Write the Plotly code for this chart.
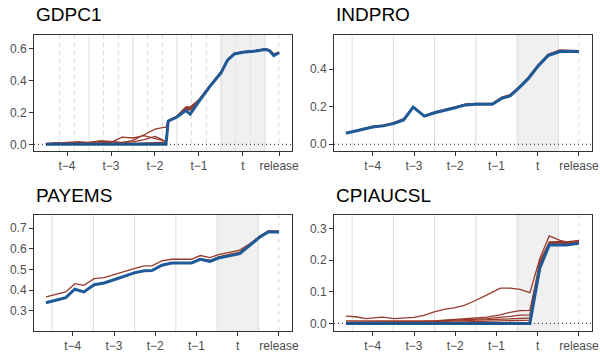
import plotly.graph_objects as go

# x positions are in quarters relative to the target quarter t
TICK_TEXT = ["t−4", "t−3", "t−2", "t−1", "t", "release"]

RED = "#973A2B"
BLUE = "#1E5A98"

# --- GDPC1 ---
gdp_x = [-4.48, -4.25, -4.0, -3.75, -3.5, -3.25, -3.0, -2.75, -2.5, -2.25, -2.0, -1.83, -1.75, -1.7,
         -1.5, -1.3, -1.2, -1.0, -0.75, -0.5, -0.35, -0.2, 0.0, 0.25, 0.5, 0.6, 0.7, 0.82]
gdp_final = [0, 0, 0, 0, 0, 0, 0, 0, 0, 0, 0, 0, 0, 0.146,
             0.172, 0.212, 0.19, 0.27, 0.365, 0.45, 0.53, 0.568, 0.58, 0.585, 0.597, 0.59, 0.558, 0.576]
gdp_v1 = [0.005, 0.008, 0.01, 0.008, 0.006, 0.005, 0.005, 0.01, 0.025, 0.06, 0.095, 0.105, 0.108, 0.15,
          0.178, 0.235, 0.235, 0.28, 0.37, 0.455, 0.535, 0.572, 0.583, 0.588, 0.6, 0.594, 0.565, 0.578]
gdp_v2 = [0.003, 0.005, 0.012, 0.015, 0.008, 0.01, 0.012, 0.045, 0.04, 0.055, 0.04, 0.025, 0.02, 0.148,
          0.175, 0.228, 0.232, 0.282, 0.372, 0.458, 0.535, 0.572, 0.584, 0.589, 0.601, 0.596, 0.57, 0.58]
gdp_v3 = [0.002, 0.004, 0.006, 0.012, 0.01, 0.02, 0.015, 0.012, 0.015, 0.03, 0.05, 0.03, 0.012, 0.148,
          0.176, 0.225, 0.226, 0.276, 0.368, 0.452, 0.532, 0.57, 0.582, 0.587, 0.599, 0.593, 0.565, 0.578]
gdp_v4 = [0.005, 0.01, 0.005, 0.015, 0.012, 0.022, 0.018, 0.008, 0.006, 0.01, 0.012, 0.012, 0.01, 0.147,
          0.174, 0.22, 0.22, 0.275, 0.366, 0.45, 0.53, 0.57, 0.582, 0.587, 0.6, 0.592, 0.562, 0.577]
gdp_v5 = [0.002, 0.002, 0.003, 0.004, 0.003, 0.004, 0.005, 0.004, 0.004, 0.005, 0.005, 0.006, 0.006, 0.147,
          0.173, 0.218, 0.215, 0.273, 0.366, 0.452, 0.532, 0.57, 0.582, 0.587, 0.599, 0.592, 0.563, 0.577]

# --- INDPRO ---
ind_x = [-4.65, -4.0, -3.75, -3.5, -3.25, -3.02, -2.75, -2.5, -2.0, -1.75, -1.5, -1.1, -0.87, -0.67,
         -0.48, -0.23, 0.0, 0.25, 0.54, 1.0]
ind_final = [0.059, 0.092, 0.098, 0.11, 0.13, 0.198, 0.15, 0.168, 0.195, 0.21, 0.213, 0.213, 0.245, 0.258,
             0.295, 0.35, 0.415, 0.473, 0.495, 0.495]
ind_v1 = [0.061, 0.096, 0.102, 0.116, 0.137, 0.2, 0.153, 0.173, 0.2, 0.216, 0.218, 0.218, 0.252, 0.265,
          0.302, 0.357, 0.422, 0.48, 0.503, 0.5]
ind_v2 = [0.06, 0.094, 0.1, 0.113, 0.133, 0.199, 0.152, 0.171, 0.198, 0.213, 0.216, 0.216, 0.249, 0.262,
          0.299, 0.354, 0.419, 0.478, 0.5, 0.498]

# --- PAYEMS ---
pay_x = [-4.65, -4.17, -3.95, -3.73, -3.48, -3.24, -3.0, -2.76, -2.51, -2.27, -2.08, -1.84, -1.6, -1.12,
         -0.91, -0.67, -0.47, -0.23, 0.05, 0.3, 0.54, 0.74, 1.0]
pay_final = [0.340, 0.364, 0.405, 0.392, 0.427, 0.435, 0.451, 0.469, 0.484, 0.494, 0.495, 0.521, 0.532, 0.532,
             0.55, 0.54, 0.556, 0.565, 0.577, 0.618, 0.658, 0.682, 0.682]
pay_v1 = [0.368, 0.392, 0.432, 0.424, 0.456, 0.461, 0.476, 0.492, 0.505, 0.518, 0.518, 0.542, 0.55, 0.55,
          0.568, 0.558, 0.572, 0.582, 0.594, 0.626, 0.663, 0.687, 0.687]
pay_v2 = [0.341, 0.365, 0.406, 0.393, 0.428, 0.436, 0.452, 0.47, 0.485, 0.495, 0.496, 0.522, 0.534, 0.534,
          0.552, 0.544, 0.562, 0.572, 0.585, 0.622, 0.66, 0.684, 0.684]
pay_v3 = [0.341, 0.365, 0.406, 0.393, 0.428, 0.436, 0.452, 0.47, 0.485, 0.495, 0.496, 0.522, 0.534, 0.534,
          0.552, 0.542, 0.559, 0.568, 0.581, 0.62, 0.66, 0.684, 0.684]

# --- CPIAUCSL ---
cpi_x = [-4.65, -4.41, -4.17, -3.77, -3.48, -3.0, -2.76, -2.51, -2.27, -2.03, -1.78, -1.56, -1.23, -0.91,
         -0.67, -0.43, -0.19, 0.05, 0.28, 0.54, 0.7, 1.0]
cpi_final = [0.0, 0.0, 0.0, 0.0, 0.0, 0.0, 0.0, 0.0, 0.0, 0.0, 0.0, 0.0, 0.0, 0.0,
             0.0, 0.0, 0.0, 0.174, 0.247, 0.247, 0.247, 0.253]
cpi_v1 = [0.023, 0.021, 0.015, 0.02, 0.015, 0.019, 0.025, 0.036, 0.044, 0.049, 0.057, 0.069, 0.09, 0.111,
          0.111, 0.107, 0.097, 0.204, 0.276, 0.262, 0.257, 0.262]
cpi_v2 = [0.008, 0.008, 0.006, 0.007, 0.006, 0.006, 0.007, 0.008, 0.01, 0.012, 0.014, 0.016, 0.02, 0.027,
          0.035, 0.04, 0.041, 0.188, 0.257, 0.258, 0.256, 0.258]
cpi_v3 = [0.004, 0.004, 0.005, 0.005, 0.004, 0.005, 0.006, 0.007, 0.008, 0.01, 0.012, 0.013, 0.015, 0.018,
          0.022, 0.026, 0.027, 0.196, 0.255, 0.256, 0.254, 0.256]
cpi_v4 = [0.002, 0.003, 0.003, 0.003, 0.004, 0.004, 0.004, 0.005, 0.006, 0.007, 0.008, 0.009, 0.01, 0.012,
          0.014, 0.016, 0.017, 0.18, 0.252, 0.254, 0.252, 0.255]
cpi_v5 = [0.001, 0.001, 0.002, 0.002, 0.002, 0.002, 0.003, 0.003, 0.003, 0.004, 0.005, 0.005, 0.006, 0.007,
          0.008, 0.009, 0.01, 0.176, 0.25, 0.25, 0.25, 0.253]

panels = [
    dict(title="GDPC1", x=gdp_x, final=gdp_final, vintages=[gdp_v1, gdp_v2, gdp_v3, gdp_v4, gdp_v5],
         release=0.82, xrange=[-4.75, 1.114], yrange=[-0.042, 0.688], yticks=[0, 0.2, 0.4, 0.6],
         solid=[-3.5, -2.5, -1.5, -0.5, 0.5],
         dashed=[-4.17, -3.83, -3.17, -2.83, -2.17, -1.83, -1.17, -0.83, -0.17, 0.17],
         xdom=[34, 292], ydom=[35, 151], zero=True),
    dict(title="INDPRO", x=ind_x, final=ind_final, vintages=[ind_v1, ind_v2],
         release=1.0, xrange=[-4.94, 1.316], yrange=[-0.036, 0.583], yticks=[0, 0.2, 0.4],
         solid=[-4.5, -3.5, -2.5, -1.5, -0.5, 0.5], dashed=[],
         xdom=[334, 592], ydom=[35, 151], zero=True),
    dict(title="PAYEMS", x=pay_x, final=pay_final, vintages=[pay_v1, pay_v2, pay_v3],
         release=1.0, xrange=[-4.94, 1.316], yrange=[0.203, 0.764], yticks=[0.3, 0.4, 0.5, 0.6, 0.7],
         solid=[-4.5, -3.5, -2.5, -1.5, -0.5, 0.5], dashed=[],
         xdom=[34, 292], ydom=[215, 331], zero=False),
    dict(title="CPIAUCSL", x=cpi_x, final=cpi_final, vintages=[cpi_v1, cpi_v2, cpi_v3, cpi_v4, cpi_v5],
         release=1.0, xrange=[-4.94, 1.316], yrange=[-0.024, 0.342], yticks=[0, 0.1, 0.2, 0.3],
         solid=[-4.5, -3.5, -2.5, -1.5, -0.5, 0.5], dashed=[],
         xdom=[334, 592], ydom=[215, 331], zero=True),
]

W, H = 600, 360
FONT = "Liberation Sans, Arial, sans-serif"
GRID = "#DCDCDC"

fig = go.Figure()
shapes = []
annotations = []

for i, p in enumerate(panels, start=1):
    xa = "x" if i == 1 else f"x{i}"
    ya = "y" if i == 1 else f"y{i}"

    for v in p["vintages"]:
        fig.add_trace(go.Scatter(x=p["x"], y=v, mode="lines", xaxis=xa, yaxis=ya,
                                 line=dict(color=RED, width=1.3), showlegend=False, hoverinfo="skip"))
    fig.add_trace(go.Scatter(x=p["x"], y=p["final"], mode="lines", xaxis=xa, yaxis=ya,
                             line=dict(color=BLUE, width=3), showlegend=False))

    # shaded target quarter
    shapes.append(dict(type="rect", xref=xa, yref=f"{ya} domain", x0=-0.5, x1=0.5, y0=0, y1=1,
                       fillcolor="#F0F0F0", line_width=0, layer="below"))
    for xv in p["solid"]:
        shapes.append(dict(type="line", xref=xa, yref=f"{ya} domain", x0=xv, x1=xv, y0=0, y1=1,
                           line=dict(color=GRID, width=1), layer="below"))
    for xv in p["dashed"] + [p["release"]]:
        shapes.append(dict(type="line", xref=xa, yref=f"{ya} domain", x0=xv, x1=xv, y0=0, y1=1,
                           line=dict(color=GRID, width=1, dash="4px,4px"), layer="below"))
    if p["zero"]:
        shapes.append(dict(type="line", xref=f"{xa} domain", yref=ya, x0=0, x1=1, y0=0, y1=0,
                           line=dict(color="#222222", width=1, dash="1px,3px"), layer="above"))

    x0, x1 = p["xdom"]
    y0, y1 = p["ydom"]
    axis_common = dict(showline=True, mirror=True, linecolor="#333333", linewidth=1,
                       ticks="outside", ticklen=4, tickcolor="#333333", showgrid=False, zeroline=False,
                       automargin=False,
                       tickfont=dict(family=FONT, size=12, color="#4D4D4D"))
    fig.update_layout(**{
        ("xaxis" if i == 1 else f"xaxis{i}"): dict(
            domain=[x0 / W, x1 / W], anchor=ya, range=p["xrange"],
            tickvals=[-4, -3, -2, -1, 0, p["release"]], ticktext=TICK_TEXT, **axis_common),
        ("yaxis" if i == 1 else f"yaxis{i}"): dict(
            domain=[1 - y1 / H, 1 - y0 / H], anchor=xa, range=p["yrange"],
            tickvals=p["yticks"], tickformat=".1f", **axis_common),
    })
    annotations.append(dict(text=p["title"], xref="paper", yref="paper", x=x0 / W,
                            y=1 - (y0 - 20) / H, xanchor="left", yanchor="middle", showarrow=False,
                            font=dict(family=FONT, size=19, color="black")))

fig.update_layout(template="none", width=W, height=H, margin=dict(l=0, r=0, t=0, b=0),
                  plot_bgcolor="white", paper_bgcolor="white",
                  shapes=shapes, annotations=annotations)

# the page body has a default 8px margin; drop it so the figure sits at the window origin
fig.write_html("out.html", config={"displayModeBar": False},
               post_script="document.body.style.margin = '0';")
